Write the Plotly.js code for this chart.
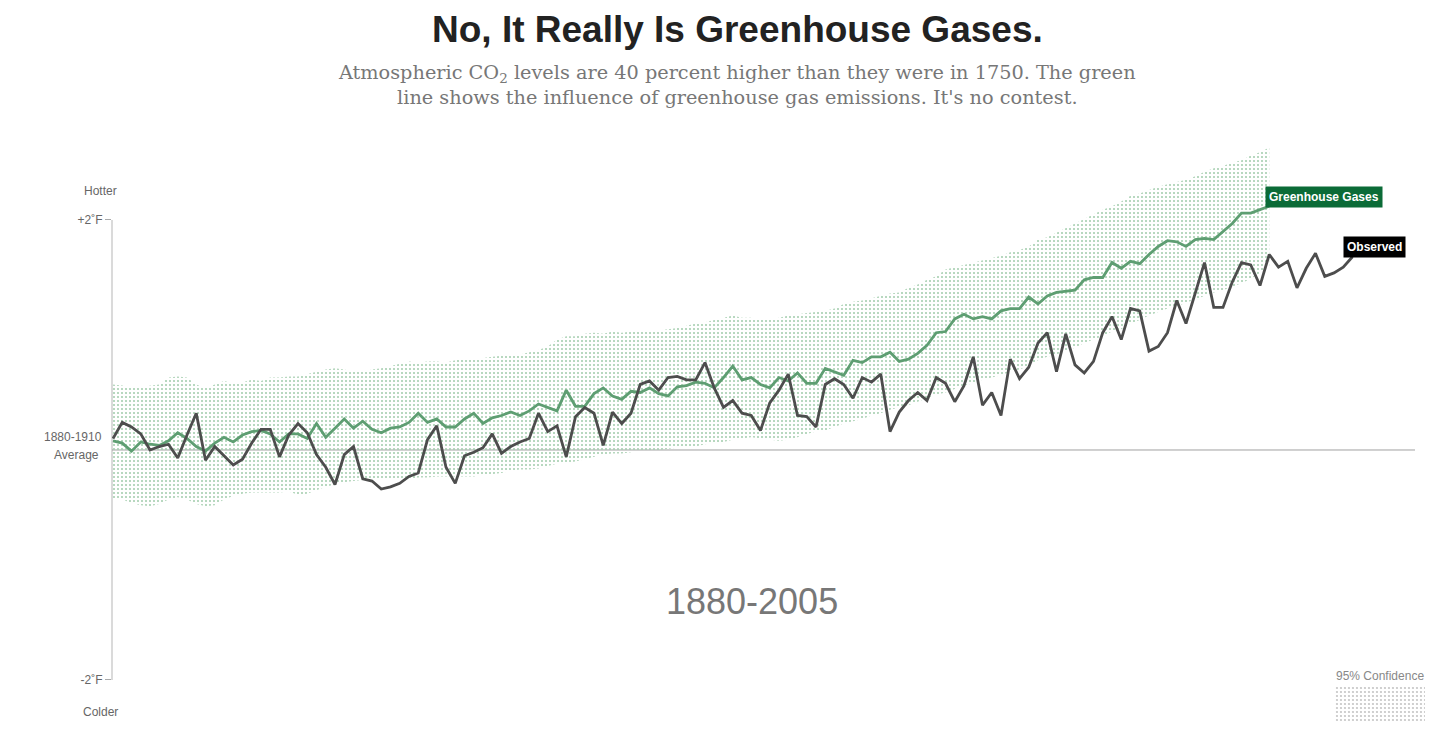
<!DOCTYPE html>
<html>
<head>
<meta charset="utf-8">
<script src="https://cdn.plot.ly/plotly-3.0.1.min.js"></script>
<style>
  html, body { margin: 0; padding: 0; background: #fff; }
  #chart { width: 1434px; height: 735px; }
</style>
</head>
<body>
<div id="chart"></div>
<script>
// ---------- DATA (temperature anomaly vs 1880-1910 average, °F) ----------
const ghgStartYear = 1880;
const greenhouseGases = [
  0.08,0.06,-0.01,0.07,0.05,0.04,0.08,0.15,0.10,0.03,
  -0.01,0.06,0.11,0.07,0.13,0.16,0.17,0.14,0.07,0.14,
  0.14,0.10,0.23,0.11,0.19,0.27,0.19,0.25,0.18,0.15,
  0.19,0.20,0.24,0.32,0.24,0.27,0.20,0.20,0.27,0.32,
  0.23,0.28,0.30,0.33,0.30,0.34,0.40,0.37,0.34,0.52,
  0.38,0.38,0.49,0.54,0.47,0.44,0.51,0.50,0.54,0.49,
  0.47,0.55,0.56,0.59,0.58,0.54,0.63,0.73,0.61,0.63,
  0.57,0.54,0.63,0.60,0.67,0.58,0.58,0.71,0.68,0.65,
  0.78,0.76,0.81,0.81,0.85,0.77,0.79,0.84,0.91,1.02,
  1.03,1.14,1.18,1.14,1.16,1.14,1.21,1.23,1.23,1.33,
  1.27,1.34,1.37,1.38,1.39,1.48,1.50,1.50,1.63,1.58,
  1.64,1.62,1.70,1.77,1.82,1.81,1.77,1.83,1.84,1.83,
  1.90,1.97,2.06,2.06,2.09,2.12
];
const confidenceUpper = [
  0.57,0.56,0.54,0.55,0.56,0.57,0.63,0.64,0.63,0.57,
  0.54,0.57,0.60,0.58,0.59,0.61,0.60,0.63,0.63,0.64,
  0.64,0.66,0.68,0.70,0.71,0.70,0.68,0.68,0.70,0.71,
  0.73,0.75,0.77,0.76,0.77,0.77,0.76,0.78,0.80,0.80,
  0.80,0.81,0.82,0.82,0.83,0.85,0.87,0.90,0.96,0.99,
  0.99,1.01,1.02,1.01,1.03,1.02,1.03,1.03,1.04,1.04,
  1.05,1.06,1.08,1.10,1.11,1.13,1.15,1.17,1.15,1.15,
  1.13,1.13,1.15,1.17,1.18,1.19,1.20,1.21,1.23,1.27,
  1.29,1.30,1.32,1.34,1.36,1.37,1.41,1.44,1.48,1.51,
  1.57,1.59,1.61,1.63,1.65,1.67,1.69,1.72,1.74,1.77,
  1.83,1.85,1.89,1.93,1.97,2.01,2.05,2.09,2.12,2.16,
  2.21,2.23,2.26,2.29,2.31,2.33,2.35,2.38,2.42,2.45,
  2.47,2.50,2.52,2.56,2.59,2.63
];
const confidenceLower = [
  -0.42,-0.43,-0.46,-0.48,-0.49,-0.47,-0.43,-0.41,-0.43,-0.47,
  -0.49,-0.48,-0.43,-0.40,-0.38,-0.37,-0.37,-0.37,-0.37,-0.36,
  -0.39,-0.38,-0.35,-0.32,-0.30,-0.28,-0.27,-0.26,-0.26,-0.26,
  -0.26,-0.25,-0.25,-0.24,-0.24,-0.23,-0.23,-0.23,-0.23,-0.23,
  -0.22,-0.21,-0.20,-0.18,-0.17,-0.17,-0.16,-0.14,-0.12,-0.11,
  -0.10,-0.08,-0.06,-0.04,-0.03,-0.03,-0.02,-0.01,-0.01,0.00,
  0.01,0.02,0.03,0.03,0.05,0.06,0.07,0.09,0.10,0.11,
  0.10,0.09,0.08,0.09,0.11,0.14,0.16,0.17,0.20,0.23,
  0.25,0.27,0.30,0.32,0.35,0.37,0.39,0.42,0.45,0.48,
  0.50,0.53,0.56,0.58,0.61,0.63,0.65,0.68,0.70,0.73,
  0.78,0.81,0.83,0.86,0.89,0.93,0.96,0.99,1.03,1.05,
  1.10,1.13,1.17,1.20,1.23,1.25,1.28,1.31,1.34,1.37,
  1.39,1.42,1.45,1.49,1.54,1.60
];
const obsStartYear = 1880;
const observed = [
  0.10,0.24,0.20,0.14,0.00,0.03,0.05,-0.07,0.13,0.32,
  -0.09,0.03,-0.05,-0.13,-0.08,0.06,0.18,0.18,-0.06,0.13,
  0.23,0.15,-0.04,-0.15,-0.30,-0.04,0.03,-0.25,-0.27,-0.34,
  -0.32,-0.29,-0.23,-0.20,0.09,0.21,-0.15,-0.29,-0.05,-0.02,
  0.02,0.14,-0.03,0.03,0.07,0.10,0.32,0.16,0.21,-0.06,
  0.29,0.37,0.32,0.04,0.33,0.23,0.32,0.57,0.60,0.52,
  0.63,0.64,0.61,0.61,0.76,0.54,0.37,0.43,0.32,0.30,
  0.17,0.41,0.52,0.66,0.30,0.29,0.20,0.57,0.62,0.57,
  0.45,0.63,0.59,0.66,0.16,0.33,0.43,0.50,0.43,0.63,
  0.58,0.42,0.56,0.81,0.39,0.50,0.30,0.79,0.62,0.72,
  0.93,1.02,0.68,1.01,0.74,0.67,0.77,1.02,1.16,0.96,
  1.23,1.21,0.86,0.90,1.02,1.30,1.10,1.36,1.63,1.24,
  1.24,1.46,1.63,1.61,1.43,1.70,1.59,1.64,1.41,1.58,
  1.71,1.51,1.54,1.59,1.68
];
const yTickVals = [2, -2];
const yTickText = ['+2˚F', '-2˚F'];

// ---------- BUILD ----------
const ghgYears = greenhouseGases.map((_, i) => ghgStartYear + i);
const obsYears = observed.map((_, i) => obsStartYear + i);

const GREEN = '#5e9e72';
const DOTS = '#a6cfb0';
const SANS = '"Liberation Sans", Arial, sans-serif';

const traces = [
  { x: ghgYears, y: confidenceLower, type: 'scatter', mode: 'lines',
    line: { width: 0, color: 'rgba(0,0,0,0)' }, hoverinfo: 'skip', showlegend: false },
  { x: ghgYears, y: confidenceUpper, type: 'scatter', mode: 'lines', fill: 'tonexty',
    fillcolor: 'rgba(0,0,0,0)',
    fillpattern: { shape: '.', size: 4, solidity: 0.22, fgcolor: DOTS, bgcolor: 'rgba(0,0,0,0)' },
    line: { width: 0, color: 'rgba(0,0,0,0)' }, hoverinfo: 'skip', showlegend: false },
  { x: ghgYears, y: greenhouseGases, type: 'scatter', mode: 'lines',
    line: { color: GREEN, width: 2.8 }, showlegend: false },
  { x: obsYears, y: observed, type: 'scatter', mode: 'lines',
    line: { color: '#4d4d4d', width: 2.8 }, showlegend: false },
  // legend swatch for the confidence band
  { x: [0, 1], y: [1, 1], xaxis: 'x2', yaxis: 'y2', type: 'scatter', mode: 'lines',
    fill: 'tozeroy', fillcolor: 'rgba(0,0,0,0)',
    fillpattern: { shape: '.', size: 4, solidity: 0.22, fgcolor: '#c4c4c4', bgcolor: 'rgba(0,0,0,0)' },
    line: { width: 0, color: 'rgba(0,0,0,0)' }, hoverinfo: 'skip', showlegend: false }
];

const pxX = 1317, pxY = 590;
const xMin = 1879.892, xMax = xMin + pxX / 9.25;
const yMax = 2.739, yMin = yMax - pxY / 115;

const lastObsYear = obsYears[obsYears.length - 1];
const lastGhgYear = ghgYears[ghgYears.length - 1];

const layout = {
  width: 1434, height: 735,
  margin: { l: 112, r: 5, t: 135, b: 10 },
  paper_bgcolor: '#fff', plot_bgcolor: 'rgba(0,0,0,0)',
  showlegend: false,
  xaxis: { range: [xMin, xMax], visible: false, fixedrange: true },
  yaxis: { range: [yMin, yMax], showgrid: false, zeroline: false, showline: false,
    ticks: 'outside', ticklen: 6, tickcolor: '#aaa', tickwidth: 1,
    tickvals: yTickVals, ticktext: yTickText,
    tickfont: { family: SANS, size: 12, color: '#666' }, fixedrange: true },
  xaxis2: { domain: [0.9286, 0.997], range: [0, 1], visible: false, anchor: 'y2' },
  yaxis2: { domain: [0.0051, 0.0661], range: [0, 1], visible: false, anchor: 'x2' },
  shapes: [
    { type: 'line', xref: 'paper', yref: 'y', x0: 0, x1: 0, y0: -2, y1: 2,
      line: { color: '#b5b5b5', width: 1 }, layer: 'below' },
    { type: 'line', xref: 'x', yref: 'y', x0: xMin, x1: xMin + 1303 / 9.25, y0: 0, y1: 0,
      line: { color: '#a0a0a0', width: 1 }, layer: 'below' }
  ],
  annotations: [
    { text: '<b>No, It Really Is Greenhouse Gases.</b>', xref: 'paper', yref: 'paper',
      x: 0.4746, y: 1.178, xanchor: 'center', yanchor: 'middle', showarrow: false,
      font: { family: SANS, size: 37, color: '#222' } },
    { text: 'Atmospheric CO<sub>2</sub> levels are 40 percent higher than they were in 1750. The green<br>line shows the influence of greenhouse gas emissions. It\'s no contest.',
      xref: 'paper', yref: 'paper', x: 0.4746, y: 1.0847, xanchor: 'center', yanchor: 'middle',
      showarrow: false, align: 'center',
      font: { family: '"DejaVu Serif", serif', size: 19.3, color: '#777' } },
    { text: 'Hotter', xref: 'paper', yref: 'paper', x: -0.0091, y: 0.905, xanchor: 'center', yanchor: 'middle',
      showarrow: false, font: { family: SANS, size: 12, color: '#666' } },
    { text: 'Colder', xref: 'paper', yref: 'paper', x: -0.0091, y: 0.022, xanchor: 'center', yanchor: 'middle',
      showarrow: false, font: { family: SANS, size: 12, color: '#666' } },
    { text: '1880-1910', xref: 'paper', yref: 'paper', x: -0.0061, y: 0.488, xanchor: 'right', yanchor: 'middle',
      showarrow: false, font: { family: SANS, size: 12, color: '#666' } },
    { text: 'Average', xref: 'paper', yref: 'paper', x: -0.008, y: 0.4576, xanchor: 'right', yanchor: 'middle',
      showarrow: false, font: { family: SANS, size: 12, color: '#666' } },
    { text: '1880-2005', xref: 'paper', yref: 'paper', x: 0.486, y: 0.2085, xanchor: 'center', yanchor: 'middle',
      showarrow: false, font: { family: SANS, size: 36, color: '#777' } },
    { text: '95% Confidence', xref: 'paper', yref: 'paper', x: 0.9628, y: 0.0831, xanchor: 'center', yanchor: 'middle',
      showarrow: false, font: { family: SANS, size: 12, color: '#888' } },
    { text: '<b>Greenhouse Gases</b>', x: lastGhgYear, y: greenhouseGases[greenhouseGases.length - 1],
      xanchor: 'left', yanchor: 'bottom', showarrow: false, xshift: -4, yshift: -2,
      bgcolor: '#0b6b37', borderpad: 3, font: { family: SANS, size: 12, color: '#fff' } },
    { text: '<b>Observed</b>', x: lastObsYear, y: observed[observed.length - 1],
      xanchor: 'left', yanchor: 'bottom', showarrow: false, xshift: -10, yshift: -1,
      bgcolor: '#000', borderpad: 3, font: { family: SANS, size: 12, color: '#fff' } }
  ]
};

Plotly.newPlot('chart', traces, layout, { staticPlot: true, displayModeBar: false });
</script>
</body>
</html>
